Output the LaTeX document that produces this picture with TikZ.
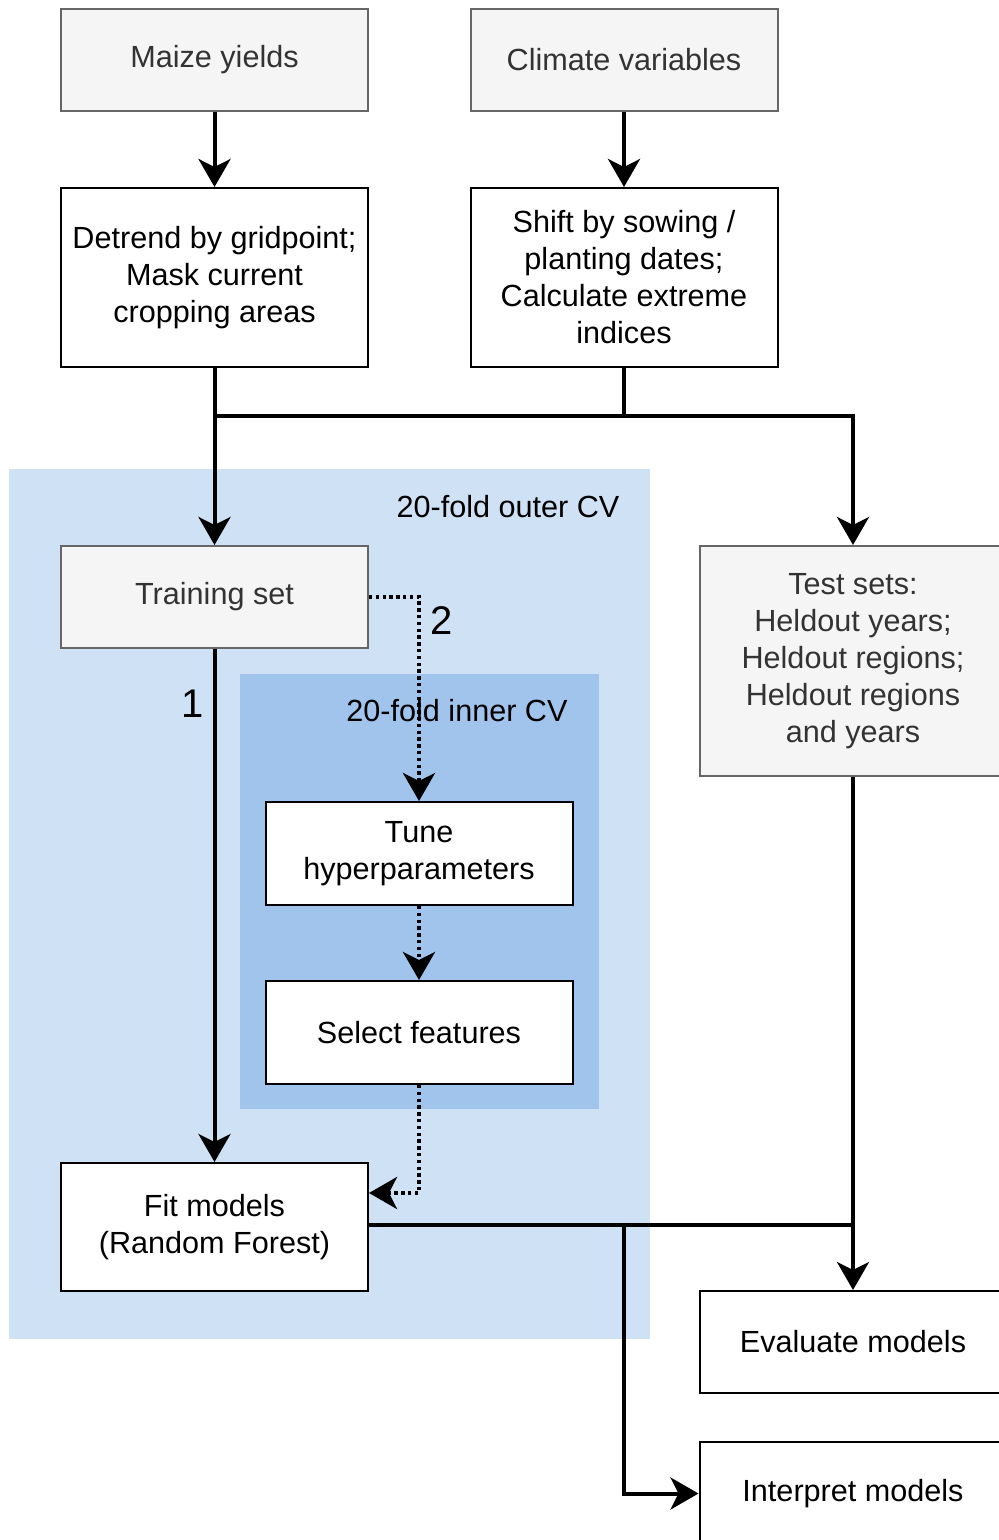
\documentclass[tikz,border=0pt]{standalone}
\usepackage{fontspec}
\setmainfont{Liberation Sans}
\usepackage{tikz}
\usetikzlibrary{positioning,arrows.meta}
\definecolor{outercv}{RGB}{207,226,245}
\definecolor{innercv}{RGB}{160,196,236}
\definecolor{greyfill}{RGB}{245,245,245}
\definecolor{greyline}{RGB}{102,102,102}
\definecolor{greytext}{RGB}{51,51,51}

\begin{document}
\begin{tikzpicture}[x=0.5pt, y=-0.5pt,
    font=\fontsize{15.3}{18.5}\selectfont,
    greybox/.style={draw=greyline, line width=1pt, fill=greyfill, text=greytext,
      minimum width=153.5pt, minimum height=51pt, align=center, inner sep=2pt},
    whitebox/.style={draw=black, line width=1pt, fill=white,
      minimum width=153.5pt, minimum height=51pt, align=center, inner sep=2pt},
    flow/.style={line width=2pt, -{Stealth[length=14pt, width=16pt, inset=4pt]}},
    plainflow/.style={line width=2pt},
    dotflow/.style={line width=2pt, dash pattern=on 1.7pt off 1.7pt,
      -{Stealth[length=14pt, width=16pt, inset=4pt]}},
    numlabel/.style={font=\fontsize{20}{24}\selectfont}]
  \useasboundingbox (0,0) rectangle (998,1540);

  % cross-validation regions
  \fill[outercv] (9,469) rectangle (650,1339);
  \fill[innercv] (240,674) rectangle (599,1109);
  \node (outerlbl) at (508,507) {20-fold outer CV};
  \node (innerlbl) at (457,711) {20-fold inner CV};

  % inputs and preprocessing
  \node[greybox] (maize) at (214.5,60) {Maize yields};
  \node[greybox] (climate) at (624,60) {Climate variables};
  \node[whitebox, minimum height=89.5pt] (detrend) at (214.5,277.5)
    {Detrend by gridpoint;\\Mask current\\cropping areas};
  \node[whitebox, minimum height=89.5pt] (shift) at (624,277.5)
    {Shift by sowing /\\planting dates;\\Calculate extreme\\indices};

  % splits and models
  \node[greybox] (train) at (214.5,597) {Training set};
  \node[greybox, minimum height=115pt] (test) at (853,661)
    {Test sets:\\Heldout years;\\Heldout regions;\\Heldout regions\\and years};
  \node[whitebox, minimum height=51.5pt] (tune) at (419,853.5) {Tune\\hyperparameters};
  \node[whitebox, minimum height=51.5pt] (select) at (419,1032.5) {Select features};
  \node[whitebox, minimum height=64pt] (fit) at (214.5,1227) {Fit models\\(Random Forest)};
  \node[whitebox] (eval) at (853,1342) {Evaluate models};
  \node[whitebox, minimum height=51.5pt] (interp) at (853,1493.5) {Interpret models};

  \coordinate (join) at (214.5,416);
  \coordinate (mid) at (624,416);
  \coordinate (bend) at (419,597);
  \coordinate (back) at (419,1193);
  \coordinate (merge) at (853,1225);
  \coordinate (split) at (624,1225);

  \draw[flow] (maize) -- (detrend);
  \draw[flow] (climate) -- (shift);
  \draw[flow] (detrend) -- (train);
  \draw[plainflow] (shift) -- (mid) -- (join);
  \draw[flow] (mid) -| (test);
  \draw[flow] (train) -- (fit);
  \node[numlabel] (one) at (193,704) {1};
  \draw[dotflow] (train.east) -- (bend) -- (tune.north);
  \node[numlabel] (two) at (442,621) {2};
  \draw[dotflow] (tune) -- (select);
  \draw[dotflow] (select.south) -- (back) -- (fit.east |- back);
  \draw[plainflow] (fit.east |- merge) -- (merge);
  \draw[flow] (test) -- (eval);
  \draw[flow] (split) |- (interp.west);
\end{tikzpicture}
\end{document}
